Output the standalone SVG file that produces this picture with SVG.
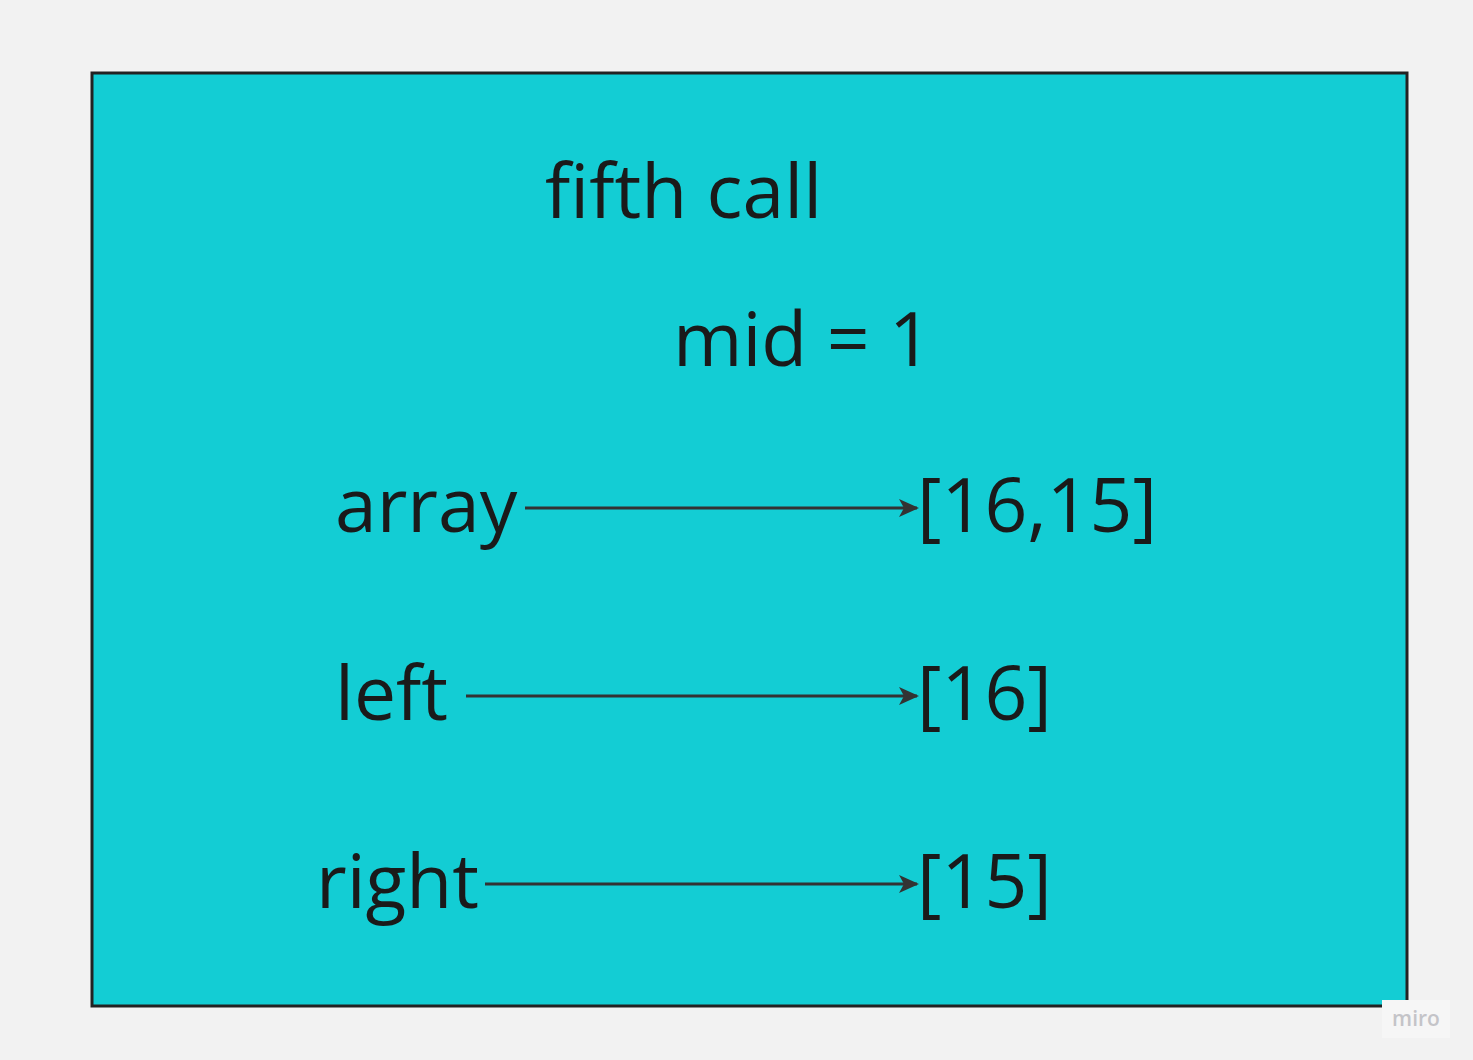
<svg xmlns="http://www.w3.org/2000/svg" width="1473" height="1060" viewBox="0 0 1473 1060">
<style>
.t{font-family:"Open Sans","Noto Sans","DejaVu Sans",sans-serif;font-size:75px;fill:#1a1a1a}
.c{stroke:#333;stroke-width:3;fill:none}
</style>
<defs>
<marker id="ah" viewBox="0 0 20 20" refX="18" refY="10" markerWidth="20" markerHeight="20" markerUnits="userSpaceOnUse" orient="auto">
<path d="M0,1 L20,10 L0,19 L5,10 Z" fill="#333"/>
</marker>
</defs>
<rect width="1473" height="1060" fill="#f2f2f2"/>
<g id="frame">
<rect x="92" y="73" width="1315" height="933" fill="#13cdd4" stroke="#222" stroke-width="3"/>
</g>
<g id="title"><text class="t" x="545" y="218">fifth call</text></g>
<g id="mid"><text class="t" x="673" y="366">mid = 1</text></g>
<g id="array"><text class="t" x="335" y="532">array</text></g>
<g id="arrayval"><text class="t" x="917" y="532">[16,15]</text></g>
<g id="left"><text class="t" x="335" y="720">left</text></g>
<g id="leftval"><text class="t" x="917" y="720">[16]</text></g>
<g id="right"><text class="t" x="316" y="908">right</text></g>
<g id="rightval"><text class="t" x="917" y="908">[15]</text></g>
<g id="connectors">
<line class="c" x1="525" y1="508" x2="917" y2="508" marker-end="url(#ah)"/>
<line class="c" x1="466" y1="696" x2="917" y2="696" marker-end="url(#ah)"/>
<line class="c" x1="485" y1="884" x2="917" y2="884" marker-end="url(#ah)"/>
</g>
<g id="watermark">
<rect x="1382" y="1000" width="68" height="38" fill="#f6f6f6"/>
<text x="1416" y="1026" text-anchor="middle" font-family="'Open Sans',sans-serif" font-size="21" font-weight="600" fill="#c4c4c8">miro</text>
</g>
</svg>
